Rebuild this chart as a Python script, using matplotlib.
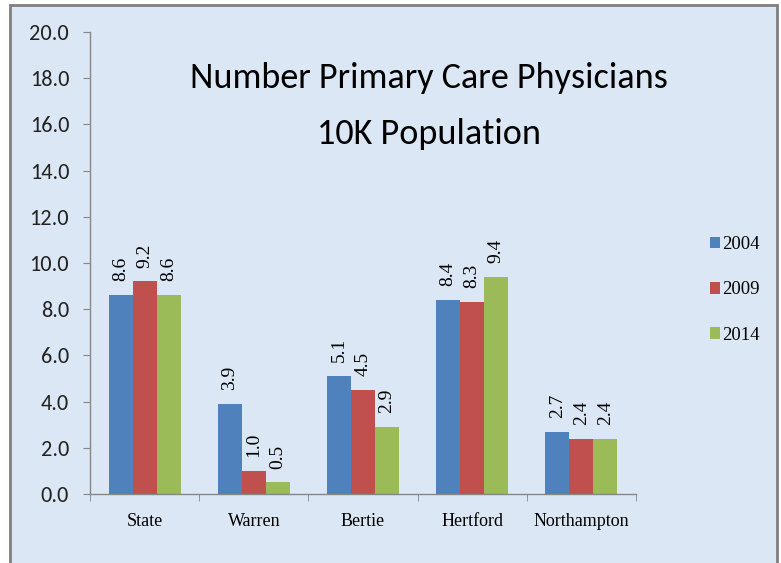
import matplotlib
matplotlib.use("Agg")
import matplotlib.pyplot as plt
from matplotlib.patches import Rectangle
from matplotlib.ticker import MultipleLocator, FixedLocator, FormatStrFormatter
from matplotlib import font_manager as fm
import numpy as np

categories = ["State", "Warren", "Bertie", "Hertford", "Northampton"]
years = ["2004", "2009", "2014"]
values_2004 = [8.6, 3.9, 5.1, 8.4, 2.7]
values_2009 = [9.2, 1.0, 4.5, 8.3, 2.4]
values_2014 = [8.6, 0.5, 2.9, 9.4, 2.4]
title_text = "Number Primary Care Physicians\n10K Population"


def pick_font(prefs, fallback):
    for name in prefs:
        for f in fm.fontManager.ttflist:
            if f.name == name and f.style == "normal" and f.weight in (400, "normal", "regular", "book"):
                return fm.FontProperties(fname=f.fname)
    return fm.FontProperties(family=fallback)


sans_fp = pick_font(["Carlito", "Archivo Narrow", "Liberation Sans Narrow"], "Roboto")
serif = "Liberation Serif"

W, H = 781, 563
fig = plt.figure(figsize=(W / 100, H / 100), dpi=100, facecolor="white")

# slide frame background
frame = Rectangle((10 / W, -0.05), (777 - 10) / W, 1.05 - 5 / H, transform=fig.transFigure,
                  facecolor="#dbe7f4", edgecolor="#7f7f7f", linewidth=2, zorder=-10)
fig.patches.append(frame)

ax = fig.add_axes([90 / W, 1 - 494 / H, (636 - 90) / W, (494 - 32) / H], zorder=5)
ax.set_facecolor("none")

colors = ["#4f81bd", "#c0504d", "#9bbb59"]
series = [values_2004, values_2009, values_2014]
x = np.arange(len(categories))
bw = 0.22
for i, (vals, col, yr) in enumerate(zip(series, colors, years)):
    bars = ax.bar(x + (i - 1) * bw, vals, width=bw, color=col, label=yr, zorder=2)
    for b, v in zip(bars, vals):
        ax.annotate(f"{v:.1f}", (b.get_x() + b.get_width() / 2, v), xytext=(0, 10),
                    textcoords="offset points", rotation=90, ha="center", va="bottom",
                    fontsize=14, family=serif, color="black")

ax.set_xlim(-0.5, len(categories) - 0.5)
ax.set_ylim(0, 20)
ax.yaxis.set_major_locator(MultipleLocator(2))
ax.yaxis.set_major_formatter(FormatStrFormatter("%.1f"))
ax.set_xticks(x)
ax.set_xticklabels(categories, family=serif, fontsize=13)
ax.xaxis.set_minor_locator(FixedLocator(np.arange(-0.5, len(categories), 1.0)))
ax.tick_params(axis="x", which="major", length=0, pad=14)
ax.tick_params(axis="x", which="minor", length=5, direction="out", color="#868686")
ax.tick_params(axis="y", length=5, direction="out", color="#868686", pad=10)
for lab in ax.get_yticklabels():
    lab.set_fontproperties(sans_fp)
    lab.set_fontsize(16)
    lab.set_color("#222222")
for s in ["top", "right"]:
    ax.spines[s].set_visible(False)
for s in ["left", "bottom"]:
    ax.spines[s].set_color("#868686")
    ax.spines[s].set_linewidth(1)

tfp = sans_fp.copy()
tfp.set_size(29)
t = fig.text(429 / W, 1 - 106 / H, title_text, ha="center", va="center",
             fontproperties=tfp, linespacing=1.9, color="black")
# fit the first title line to the reference width (~478 px)
fig.canvas.draw()
l1 = fig.text(0, 0, title_text.split("\n")[0], fontproperties=tfp)
wpx = l1.get_window_extent().width
l1.remove()
tfp.set_size(29 * 478 / wpx)
t.set_fontproperties(tfp)

fig.legend(loc="center left", bbox_to_anchor=(702 / W, 1 - 290 / H), frameon=False,
           prop={"family": serif, "size": 13.5}, handlelength=0.55, handleheight=0.55,
           handletextpad=0.1, labelspacing=1.5, borderaxespad=0)

fig.savefig("out.png", dpi=100, facecolor="white")
